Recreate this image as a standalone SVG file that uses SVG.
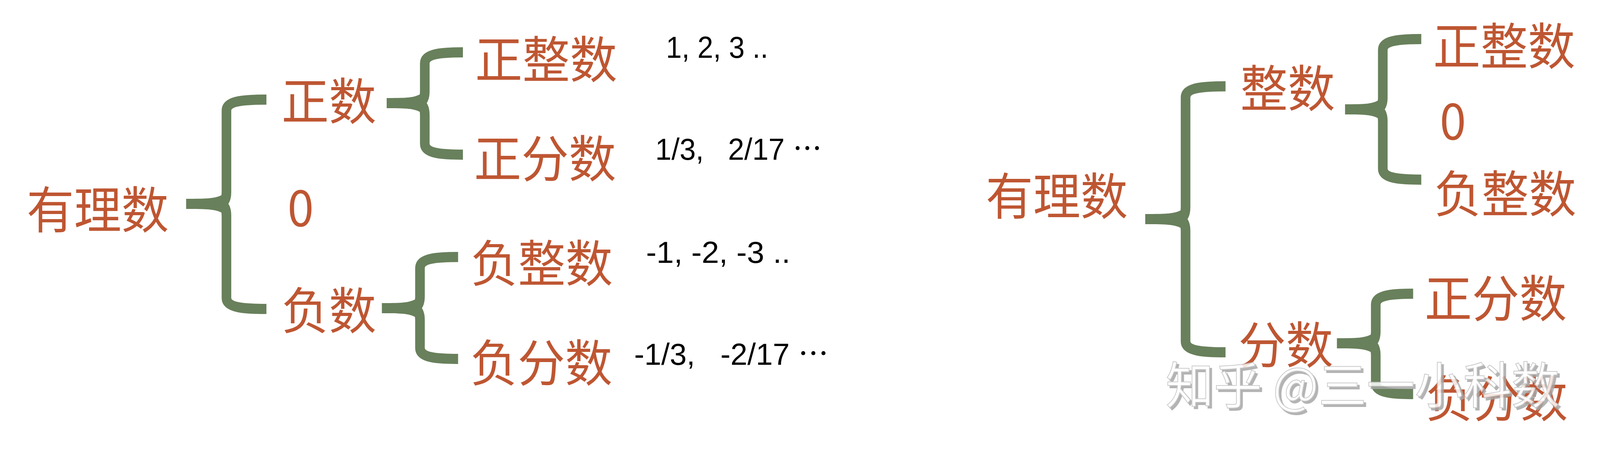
<svg xmlns="http://www.w3.org/2000/svg" width="4324" height="1165" viewBox="0 0 4324 1165" preserveAspectRatio="none" style="width:100vw;height:100vh;display:block">
<style>
.t{font-family:"Noto Sans CJK SC","Noto Sans",sans-serif;font-size:128px;fill:#BE5632}
.n{font-family:"Liberation Sans","Noto Sans CJK SC",sans-serif;font-size:78px;fill:#000;white-space:pre}
.b{fill:none;stroke:#68805B;stroke-width:26}
.s{fill:#68805B;stroke:none}
.wm{font-family:"Noto Sans CJK SC",sans-serif;font-size:128px;white-space:pre;fill:#fff;stroke:#c4c4c4;stroke-width:2}
</style>
<defs>
<filter id="wmShadow" x="-5%" y="-20%" width="115%" height="150%">
<feDropShadow dx="6" dy="6" stdDeviation="0" flood-color="#a6a6a6" flood-opacity="1"/>
</filter>
</defs>
<rect width="4324" height="1165" fill="#fff"/>
<g id="connectors">
<path class="b" d="M720,255 C661,255 612,258 612,283 L612,492 C612,510 606,518 598,522 C606,526 612,534 612,552 L612,763 C612,788 661,791 720,791"/>
<path class="s" d="M503,509 C564,509 582,508 600,499 L600,545 C582,536 564,535 503,535 Z"/>
<path class="b" d="M1251,134 C1194,134 1148,137 1148,162 L1148,234 C1148,252 1142,260 1134,264 C1142,268 1148,276 1148,294 L1148,368 C1148,393 1194,396 1251,396"/>
<path class="s" d="M1045,251 C1102,251 1118,250 1136,241 L1136,287 C1118,278 1102,277 1045,277 Z"/>
<path class="b" d="M1238,658 C1181,658 1135,661 1135,686 L1135,759 C1135,777 1129,785 1121,789 C1129,793 1135,801 1135,819 L1135,891 C1135,916 1181,919 1238,919"/>
<path class="s" d="M1032,776 C1089,776 1105,775 1123,766 L1123,812 C1105,803 1089,802 1032,802 Z"/>
<path class="b" d="M3312,221 C3253,221 3204,224 3204,249 L3204,531 C3204,549 3198,557 3190,561 C3198,565 3204,573 3204,591 L3204,874 C3204,899 3253,902 3312,902"/>
<path class="s" d="M3095,548 C3155,548 3174,547 3192,538 L3192,584 C3174,575 3155,574 3095,574 Z"/>
<path class="b" d="M3841,100 C3784,100 3737,103 3737,128 L3737,250 C3737,268 3731,276 3723,280 C3731,284 3737,292 3737,310 L3737,432 C3737,457 3784,460 3841,460"/>
<path class="s" d="M3635,267 C3691,267 3707,266 3725,257 L3725,303 C3707,294 3691,293 3635,293 Z"/>
<path class="b" d="M3819,752 C3763,752 3718,755 3718,780 L3718,849 C3718,867 3712,875 3704,879 C3712,883 3718,891 3718,909 L3718,981 C3718,1006 3763,1009 3819,1009"/>
<path class="s" d="M3613,866 C3671,866 3688,865 3706,856 L3706,902 C3688,893 3671,892 3613,892 Z"/>
</g>
<g id="left-tree">
<g id="L-root"><text class="t" x="72" y="585">有理数</text></g>
<g id="L-pos"><text class="t" x="761" y="307">正数</text></g>
<g id="L-zero"><text class="t" x="777" y="579">0</text></g>
<g id="L-neg"><text class="t" x="761" y="843">负数</text></g>
<g id="L-posint"><text class="t" x="1284" y="200">正整数</text></g>
<g id="L-posfrac"><text class="t" x="1281" y="454">正分数</text></g>
<g id="L-negint"><text class="t" x="1272" y="722">负整数</text></g>
<g id="L-negfrac"><text class="t" x="1271" y="977">负分数</text></g>
<g id="L-ex1"><text class="n" x="1800" y="148" textLength="276" lengthAdjust="spacingAndGlyphs" xml:space="preserve">1, 2, 3 ..</text></g>
<g id="L-ex2"><text class="n" x="1771" y="409" textLength="450" lengthAdjust="spacingAndGlyphs" xml:space="preserve">1/3,   2/17 <tspan font-family="Noto Sans CJK SC">…</tspan></text></g>
<g id="L-ex3"><text class="n" x="1746" y="673" textLength="390" lengthAdjust="spacingAndGlyphs" xml:space="preserve">-1, -2, -3 ..</text></g>
<g id="L-ex4"><text class="n" x="1714" y="934" textLength="525" lengthAdjust="spacingAndGlyphs" xml:space="preserve">-1/3,   -2/17 <tspan font-family="Noto Sans CJK SC">…</tspan></text></g>
</g>
<g id="right-tree">
<g id="R-root"><text class="t" x="2664" y="550">有理数</text></g>
<g id="R-int"><text class="t" x="3352" y="274">整数</text></g>
<g id="R-frac"><text class="t" x="3347" y="931">分数</text></g>
<g id="R-posint"><text class="t" x="3873" y="166">正整数</text></g>
<g id="R-zero"><text class="t" x="3891" y="357">0</text></g>
<g id="R-negint"><text class="t" x="3876" y="544">负整数</text></g>
<g id="R-posfrac"><text class="t" x="3850" y="812">正分数</text></g>
<g id="R-negfrac"><text class="t" x="3853" y="1068">负分数</text></g>
</g>
<g id="watermark" opacity="0.85">
<text class="wm" x="3150" y="1034" filter="url(#wmShadow)" textLength="1065" lengthAdjust="spacingAndGlyphs" xml:space="preserve">知乎 @三一小科数</text>
</g>
</svg>
